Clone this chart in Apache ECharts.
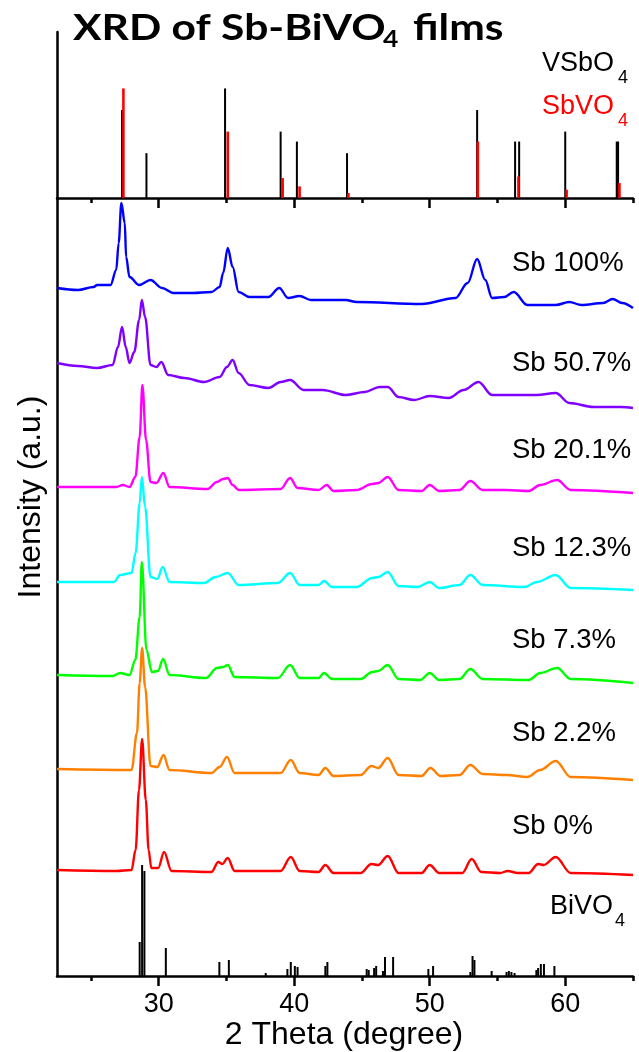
<!DOCTYPE html>
<html>
<head>
<meta charset="utf-8">
<script src="https://cdn.jsdelivr.net/npm/echarts@6/dist/echarts.min.js"></script>
<style>
  html, body { margin: 0; padding: 0; background: #ffffff; }
  #chart { width: 639px; height: 1052px; }
</style>
</head>
<body>
<div id="chart"></div>
<script>
// ---- 2θ axis ----
const twoThetaMin = 22.5;
const twoThetaMax = 65;
const majorTicks = [30, 40, 50, 60];
const minorTicks = [25, 35, 45, 55, 65];

// ---- reference patterns: [2θ, relative intensity %] ----
const vsbo4Lines = [
  [27.3, 53], [29.1, 27], [34.9, 66], [39.0, 40], [40.2, 34], [43.9, 27],
  [53.5, 53], [56.3, 34], [56.6, 34], [60.0, 40], [63.8, 34], [63.9, 34]
];
const sbvo4Lines = [
  [27.4, 66], [35.1, 40], [39.15, 12], [40.4, 7], [44.0, 3],
  [53.55, 34], [56.55, 13], [60.1, 5], [64.0, 9]
];
// BiVO4 reference lines, in the same a.u. as the measured patterns
const bivo4Lines = [
  [28.6, 34], [28.78, 111], [28.95, 105], [30.53, 28], [34.48, 14], [35.18, 16],
  [37.9, 3], [39.5, 7], [39.75, 14], [40.05, 10], [40.25, 9], [42.3, 10], [42.45, 14],
  [45.35, 7], [45.5, 6], [45.9, 8], [46.05, 10], [46.55, 5], [46.7, 19], [47.3, 19],
  [49.9, 7], [50.25, 10], [53.0, 4], [53.16, 20], [53.3, 16], [54.57, 5],
  [55.67, 4], [55.84, 5], [56.03, 4], [56.26, 3], [57.87, 6], [58.0, 8],
  [58.2, 12], [58.43, 12], [59.2, 10]
];

// ---- measured films, stacked intensity (a.u.) ----
const sb100 = [
  [22.5, 688], [24.05, 686], [25.2, 689], [25.46, 691], [26.45, 691], [26.87, 706], [27.05, 733],
  [27.25, 773], [27.5, 753], [27.6, 719], [27.85, 699], [28.56, 691], [29.4, 696],
  [30.25, 688], [31.1, 683], [32.5, 683], [33.9, 684], [34.5, 689], [34.76, 703],
  [35.1, 728], [35.46, 709], [35.9, 684], [36.7, 679], [38.1, 679], [38.9, 688],
  [39.55, 678], [40.4, 680], [41.24, 676], [43.8, 676], [44.6, 674], [49.4, 672],
  [51.9, 678], [52.8, 693], [53.5, 717], [54.1, 696], [54.6, 678], [55.5, 679],
  [56.2, 684], [57.2, 671], [59.3, 671], [60.3, 674], [61.2, 671], [62.8, 673],
  [63.5, 677], [64.2, 673], [65, 668]
];
const sb507 = [
  [22.5, 613], [24.05, 610], [25.46, 608], [26.6, 611], [27.0, 629], [27.3, 649],
  [27.57, 629], [27.85, 613], [28.2, 624], [28.56, 656], [28.76, 676], [29.0, 659],
  [29.4, 611], [29.83, 609], [30.2, 614], [30.7, 601], [31.9, 598], [33.35, 594],
  [34.5, 599], [35.04, 609], [35.46, 616], [35.9, 603], [36.7, 591], [38.1, 588],
  [39.0, 594], [39.7, 596], [40.7, 586], [42.1, 586], [43.8, 581], [45.2, 584],
  [46.3, 589], [46.9, 589], [47.7, 579], [48.85, 576], [50.0, 580], [51.4, 578],
  [52.5, 586], [53.6, 594], [54.6, 581], [56.2, 581], [57.9, 581], [59.3, 583],
  [60.3, 573], [62.1, 569], [64.1, 569], [65, 568]
];
const sb201 = [
  [22.5, 489], [26.87, 489], [27.37, 491], [27.85, 489], [28.28, 499], [28.6, 539],
  [28.8, 591], [29.07, 536], [29.4, 494], [29.83, 493], [30.35, 503], [30.8, 489],
  [33.6, 487], [34.3, 494], [34.76, 497], [35.1, 498], [35.46, 491], [35.9, 486],
  [39.0, 487], [39.7, 498], [40.25, 488], [41.8, 486], [42.4, 491], [42.9, 485],
  [44.6, 486], [45.75, 492], [46.2, 493], [46.9, 499], [47.7, 486], [49.4, 485],
  [50.0, 491], [50.7, 485], [52.2, 486], [53.0, 495], [53.9, 486], [55.6, 486],
  [57.3, 485], [58.15, 491], [59.4, 496], [60.4, 486], [65, 483]
];
const sb123 = [
  [22.5, 394], [26.7, 394], [27.15, 401], [28.0, 403], [28.3, 423], [28.6, 473],
  [28.76, 499], [29.0, 469], [29.4, 399], [29.9, 397], [30.3, 409], [30.8, 394],
  [33.35, 393], [34.2, 399], [35.1, 403], [35.9, 391], [38.8, 393], [39.7, 403],
  [40.4, 391], [41.8, 391], [42.2, 395], [42.8, 389], [44.6, 389], [45.75, 398],
  [46.2, 399], [46.9, 404], [47.7, 390], [49.1, 389], [50.0, 394], [50.7, 388],
  [52.2, 391], [53.0, 401], [53.9, 391], [57.0, 389], [57.9, 394], [59.3, 401],
  [60.4, 388], [65, 386]
];
const sb73 = [
  [22.5, 301], [26.6, 300], [27.15, 303], [27.85, 301], [28.28, 316], [28.6, 359],
  [28.76, 414], [29.1, 326], [29.5, 304], [29.95, 305], [30.33, 317], [30.8, 301],
  [33.5, 298], [34.3, 308], [34.76, 309], [35.1, 311], [35.6, 299], [38.8, 298],
  [39.7, 311], [40.4, 298], [41.8, 298], [42.2, 303], [42.8, 297], [44.9, 297],
  [45.75, 304], [46.2, 305], [46.9, 311], [47.7, 297], [49.3, 296], [50.0, 303],
  [50.7, 296], [52.2, 297], [53.0, 307], [53.9, 297], [57.3, 296], [58.15, 303],
  [59.4, 308], [60.4, 297], [65, 293]
];
const sb22 = [
  [22.5, 207], [28.0, 206], [28.4, 243], [28.6, 293], [28.78, 328], [29.0, 289],
  [29.4, 210], [29.9, 209], [30.36, 221], [30.8, 206], [33.9, 203], [34.5, 209],
  [35.04, 219], [35.6, 203], [39.0, 203], [39.75, 216], [40.4, 203], [41.8, 201],
  [42.3, 208], [42.9, 200], [44.9, 201], [45.7, 210], [46.2, 208], [46.9, 218],
  [47.7, 201], [49.4, 200], [50.05, 208], [50.8, 200], [52.2, 201], [53.0, 211],
  [53.9, 202], [55.7, 201], [57.2, 199], [58.15, 206], [59.3, 215], [60.4, 199],
  [65, 196]
];
const sb0 = [
  [22.5, 106], [26.87, 105], [28.0, 106], [28.3, 126], [28.55, 186], [28.78, 237],
  [29.05, 176], [29.26, 126], [29.46, 108], [29.97, 108], [30.4, 124], [30.95, 105],
  [33.9, 104], [34.4, 114], [34.7, 112], [35.1, 118], [35.6, 105], [39.0, 105],
  [39.75, 119], [40.4, 105], [41.8, 104], [42.3, 111], [42.9, 103], [44.9, 103],
  [45.7, 112], [46.2, 111], [46.9, 120], [47.7, 103], [49.4, 103], [50.0, 111],
  [50.7, 103], [52.4, 103], [53.1, 117], [53.8, 104], [55.2, 103], [55.75, 105],
  [56.5, 103], [57.3, 103], [58.0, 112], [58.4, 111], [59.3, 119], [60.4, 103],
  [65, 101]
];

const sampleNames = ['Sb 100%', 'Sb 50.7%', 'Sb 20.1%', 'Sb 12.3%', 'Sb 7.3%', 'Sb 2.2%', 'Sb 0%'];
const sampleData = [sb100, sb507, sb201, sb123, sb73, sb22, sb0];
const sampleColors = ['#0000ff', '#8000ff', '#ff00ff', '#00ffff', '#00ff00', '#ff8000', '#ff0000'];
// label centre heights (px) for each sample name
const sampleLabelY = [262, 362, 449, 547, 639, 732, 825];

const ARIAL = '"Liberation Sans", Arial, sans-serif';
const TITLE_FONT = 'Lato, "Open Sans", sans-serif';

const chart = echarts.init(document.getElementById('chart'), null, { renderer: 'canvas' });

function stickSeries(name, data, color, width, xi, yi, z) {
  return {
    name: name,
    type: 'custom',
    xAxisIndex: xi,
    yAxisIndex: yi,
    z: z,
    silent: true,
    encode: { x: 0, y: 1 },
    data: data,
    renderItem: function (params, api) {
      const x = api.value(0);
      const h = api.value(1);
      const p0 = api.coord([x, 0]);
      const p1 = api.coord([x, h]);
      return {
        type: 'line',
        shape: { x1: p0[0], y1: p0[1], x2: p1[0], y2: p1[1] },
        style: { stroke: color, lineWidth: width }
      };
    }
  };
}

function xAxisPair(gridIndex, withLabels) {
  const base = {
    type: 'value',
    gridIndex: gridIndex,
    min: twoThetaMin,
    max: twoThetaMax,
    position: 'bottom',
    splitLine: { show: false }
  };
  return [
    Object.assign({}, base, {
      axisLine: { show: true, onZero: false, lineStyle: { color: '#000', width: 2.5 } },
      axisTick: { show: true, inside: false, length: 10, customValues: majorTicks,
                  lineStyle: { color: '#000', width: 2.5 } },
      axisLabel: withLabels ? {
        show: true, customValues: majorTicks, margin: 15,
        color: '#000', fontSize: 27, fontFamily: ARIAL
      } : { show: false }
    }),
    Object.assign({}, base, {
      axisLine: { show: false },
      axisTick: { show: true, inside: false, length: 5, customValues: minorTicks,
                  lineStyle: { color: '#000', width: 2.5 } },
      axisLabel: { show: false }
    })
  ];
}

const xAxes = xAxisPair(0, false).concat(xAxisPair(1, true));

const series = [
  stickSeries('VSbO4', vsbo4Lines, '#000000', 2, 0, 0, 2),
  stickSeries('SbVO4', sbvo4Lines, '#ff0000', 2.6, 0, 0, 3),
  stickSeries('BiVO4', bivo4Lines, '#000000', 2, 2, 1, 2)
];
sampleData.forEach(function (d, i) {
  series.push({
    name: sampleNames[i],
    type: 'line',
    xAxisIndex: 2,
    yAxisIndex: 1,
    data: d,
    showSymbol: false,
    smooth: 0.35,
    smoothMonotone: 'x',
    silent: true,
    z: 3 + i,
    lineStyle: { color: sampleColors[i], width: 2.4 }
  });
});

const graphics = [];
// title with subscript
graphics.push(
  { type: 'text', x: 73, y: 28, scaleX: 1.15, style: { text: 'XRD of Sb-BiVO', font: 'bold 37px ' + TITLE_FONT, fill: '#000', verticalAlign: 'middle' } },
  { type: 'text', x: 383, y: 40, scaleX: 1.15, style: { text: '4', font: 'bold 23px ' + TITLE_FONT, fill: '#000', verticalAlign: 'middle' } },
  { type: 'text', x: 413, y: 28, scaleX: 1.15, style: { text: 'films', font: 'bold 37px ' + TITLE_FONT, fill: '#000', verticalAlign: 'middle' } }
);
// phase key
graphics.push(
  { type: 'text', x: 542, y: 64, style: { text: 'VSbO', font: '27px ' + ARIAL, fill: '#000', verticalAlign: 'middle' } },
  { type: 'text', x: 618, y: 78, style: { text: '4', font: '18px ' + ARIAL, fill: '#000', verticalAlign: 'middle' } },
  { type: 'text', x: 542, y: 107, style: { text: 'SbVO', font: '27px ' + ARIAL, fill: '#ff0000', verticalAlign: 'middle' } },
  { type: 'text', x: 618, y: 121, style: { text: '4', font: '18px ' + ARIAL, fill: '#ff0000', verticalAlign: 'middle' } }
);
// sample names
sampleNames.forEach(function (n, i) {
  graphics.push({ type: 'text', x: 512, y: sampleLabelY[i] + 1,
    style: { text: n, font: '27.5px ' + ARIAL, fill: '#000', verticalAlign: 'middle' } });
});
graphics.push(
  { type: 'text', x: 550, y: 907, style: { text: 'BiVO', font: '27px ' + ARIAL, fill: '#000', verticalAlign: 'middle' } },
  { type: 'text', x: 615, y: 921, style: { text: '4', font: '18px ' + ARIAL, fill: '#000', verticalAlign: 'middle' } }
);
// axis titles
graphics.push(
  { type: 'text', x: 344, y: 1035, style: { text: '2 Theta (degree)', font: '32px ' + ARIAL, fill: '#000', align: 'center', verticalAlign: 'middle' } },
  { type: 'text', x: 31, y: 497, rotation: Math.PI / 2, style: { text: 'Intensity (a.u.)', font: '32px ' + ARIAL, fill: '#000', align: 'center', verticalAlign: 'middle' } }
);

chart.setOption({
  animation: false,
  backgroundColor: '#ffffff',
  grid: [
    { left: 57, top: 32, width: 576, height: 166, outerBoundsMode: 'none', containLabel: false },
    { left: 57, top: 198, width: 576, height: 778, outerBoundsMode: 'none', containLabel: false }
  ],
  xAxis: xAxes,
  yAxis: [
    { type: 'value', gridIndex: 0, min: 0, max: 100,
      axisLine: { show: true, onZero: false, lineStyle: { color: '#000', width: 2.5 } },
      axisTick: { show: false }, axisLabel: { show: false }, splitLine: { show: false } },
    { type: 'value', gridIndex: 1, min: 0, max: 778,
      axisLine: { show: true, onZero: false, lineStyle: { color: '#000', width: 2.5 } },
      axisTick: { show: false }, axisLabel: { show: false }, splitLine: { show: false } }
  ],
  series: series,
  graphic: graphics
});
</script>
</body>
</html>
